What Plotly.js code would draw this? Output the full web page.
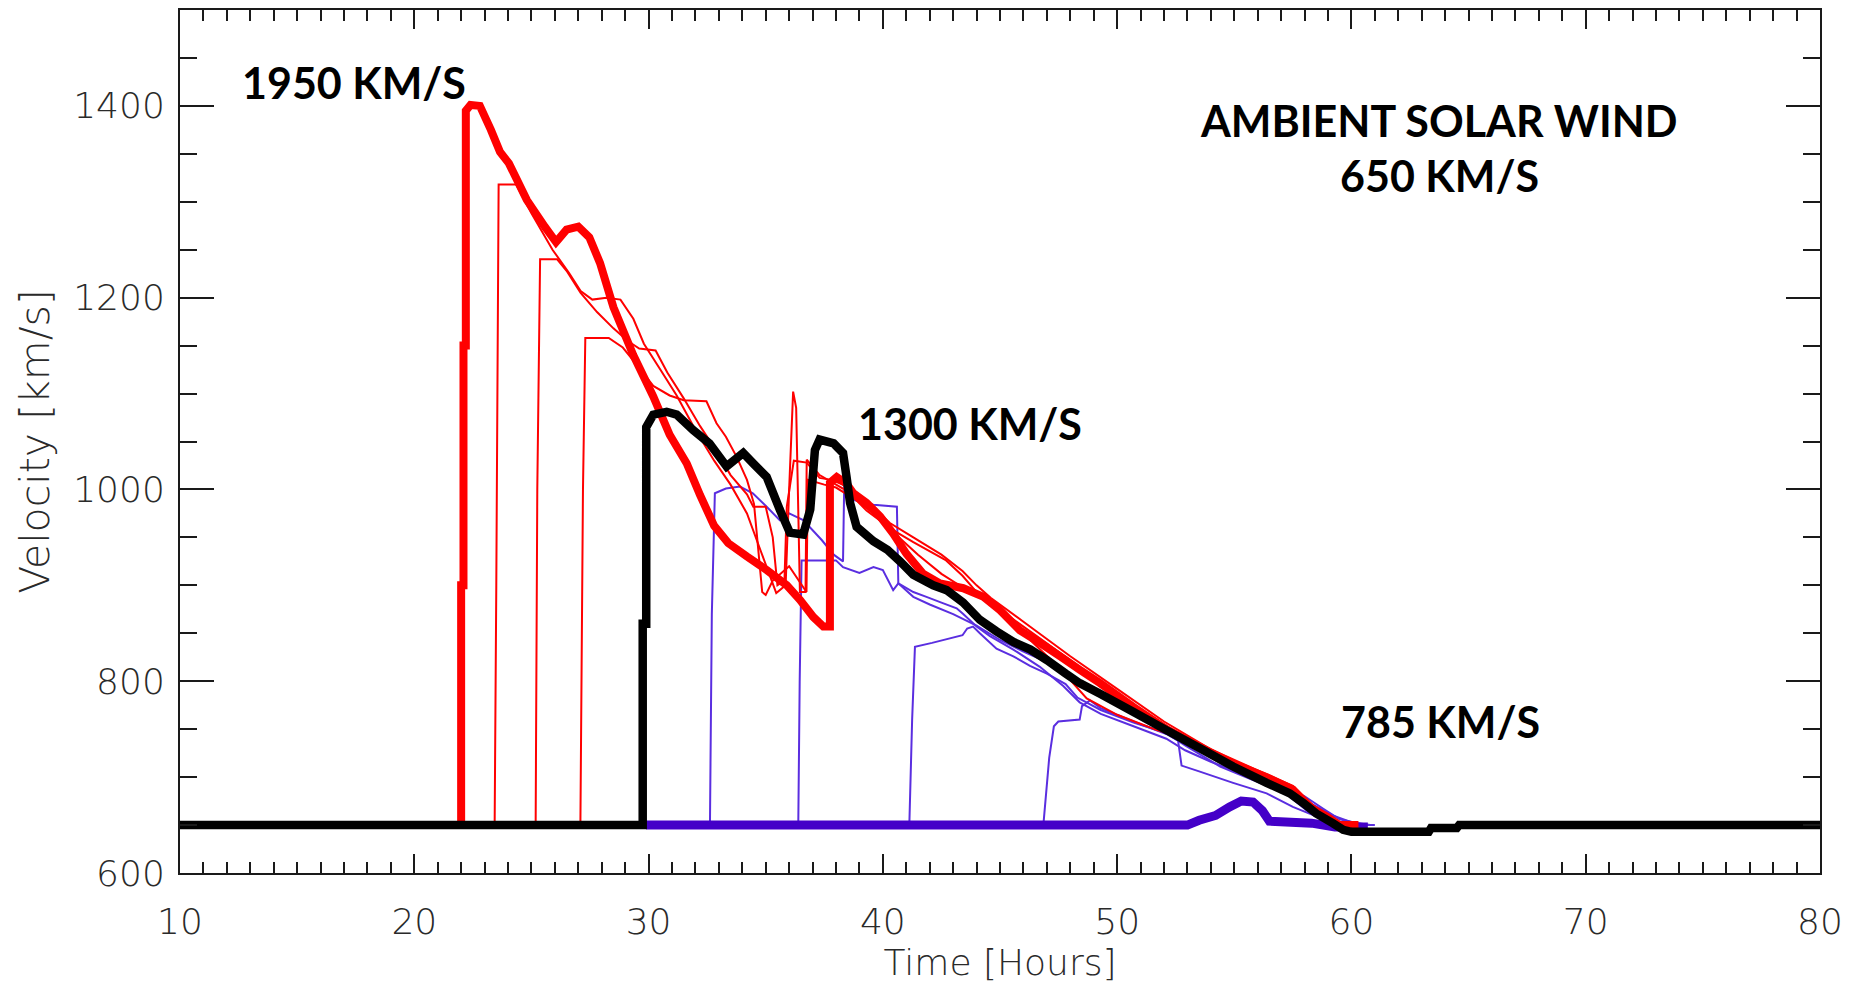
<!DOCTYPE html>
<html>
<head>
<meta charset="utf-8">
<script src="https://cdn.plot.ly/plotly-3.0.1.min.js"></script>
<style>
  html, body { margin: 0; padding: 0; background: #ffffff; }
  #chart { width: 1858px; height: 987px; }
</style>
</head>
<body>
<div id="chart"></div>
<script>
// ---------------- DATA ----------------
// Time in hours, velocity in km/s

// Thick black: 1300 km/s case (includes the ambient wind baseline)
const blackT = [10, 29.75, 29.75, 29.9, 29.9, 30.2, 30.77, 31.2, 31.9, 32.6, 33.33, 34.04, 34.47, 35.04, 35.6, 36.03, 36.6, 36.9, 37.1, 37.3, 37.9, 38.3, 38.45, 38.6, 38.88, 39.6, 40.2, 40.73, 41.3, 42.15, 42.72, 43.43, 44.14, 44.85, 45.57, 46.3, 47.0, 47.8, 48.4, 49.27, 50.7, 52.1, 53.53, 54.95, 56.38, 57.37, 57.94, 58.5, 59.2, 59.65, 60.0, 63.3, 63.4, 64.5, 64.6, 80];
const blackV = [650, 650, 860, 860, 1065, 1078, 1081, 1078, 1062, 1048, 1024, 1038, 1027, 1013, 979, 955, 953, 979, 1041, 1052, 1048, 1038, 1013, 986, 961, 946, 937, 925, 911, 900, 895, 882, 864, 852, 841, 833, 822, 808, 798, 787, 768, 749, 730, 711, 694, 683, 673, 662, 652, 645, 643, 643, 647, 647, 650, 650];

// Thick red: 1950 km/s case
const redT = [22.0, 22.0, 22.1, 22.1, 22.2, 22.2, 22.4, 22.8, 23.27, 23.66, 24.04, 24.8, 25.57, 26.05, 26.5, 27.0, 27.47, 27.93, 28.5, 29.35, 30.2, 30.9, 31.63, 32.2, 32.8, 33.4, 34.2, 35.04, 35.9, 36.46, 37.03, 37.46, 37.74, 37.74, 38.03, 38.45, 38.74, 39.3, 39.88, 40.44, 41.0, 41.72, 42.44, 43.43, 44.3, 45.0, 45.85, 46.7, 47.56, 48.4, 49.27, 50.7, 52.1, 53.5, 54.95, 56.38, 57.5, 58.2, 58.94, 59.5, 60.3];
const redV = [650, 900, 900, 1150, 1150, 1395, 1401, 1400, 1375, 1352, 1340, 1302, 1274, 1258, 1271, 1274, 1263, 1236, 1190, 1140, 1097, 1057, 1027, 994, 962, 944, 930, 916, 900, 885, 867, 857, 857, 1007, 1013, 1006, 996, 986, 972, 954, 933, 912, 902, 897, 888, 874, 853, 840, 826, 812, 798, 773, 750, 732, 714, 700, 687, 669, 659, 650, 650];

// Thick purple: 785 km/s case
const purpleT = [29.9, 53.0, 53.5, 54.2, 54.8, 55.3, 55.8, 56.2, 56.5, 58.3, 59.3, 60.7];
const purpleV = [650, 650, 655, 660, 669, 675, 674, 665, 654, 652, 648, 648];

// Thin red ensemble members
const red1T = [23.43, 23.5, 23.6, 24.35, 25.0, 25.9, 26.6, 27.1, 27.6, 28.2, 28.8, 29.35, 29.8, 30.5, 31.2, 32.0, 32.8, 33.5, 34.2, 34.8, 35.45, 35.85, 36.0, 36.17, 36.3, 36.46, 36.7, 36.75, 37.3, 37.8, 38.5, 39.3, 40.4, 41.3, 42.7, 43.4, 44.0, 44.7, 46.0, 48.0, 50.0, 52.0, 54.0, 56.0, 57.5, 58.3, 59.0, 59.6, 60.5];
const red1V = [650, 900, 1318, 1318, 1288, 1250, 1226, 1207, 1198, 1200, 1198, 1178, 1152, 1125, 1098, 1062, 1030, 1005, 975, 935, 892, 900, 1000, 1102, 1085, 893, 893, 1031, 1015, 1008, 998, 978, 958, 945, 926, 910, 893, 880, 857, 822, 787, 755, 727, 705, 690, 670, 658, 650, 650];
const red2T = [25.18, 25.25, 25.37, 26.1, 26.5, 27.1, 27.8, 28.5, 29.1, 29.6, 30.3, 30.8, 31.5, 32.2, 32.9, 33.5, 34.2, 34.47, 35.0, 35.3, 35.5, 35.8, 35.9, 36.2, 36.75, 37.3, 37.8, 38.5, 39.3, 40.3, 41.3, 42.5, 43.4, 44.0, 44.6, 46.0, 48.0, 50.0, 52.0, 54.0, 56.0, 57.5, 58.4, 59.1, 59.7, 60.5];
const red2V = [650, 1000, 1240, 1240, 1228, 1205, 1185, 1168, 1155, 1147, 1145, 1122, 1095, 1066, 1040, 1015, 995, 982, 982, 950, 900, 905, 982, 1030, 1028, 1012, 1010, 1003, 988, 965, 950, 932, 915, 900, 887, 862, 826, 792, 758, 729, 707, 691, 670, 657, 650, 650];
const red3T = [27.09, 27.2, 27.3, 28.3, 28.9, 29.5, 30.2, 30.9, 31.5, 32.47, 32.9, 33.3, 33.76, 34.2, 34.5, 34.85, 35.0, 35.3, 36.0, 36.74, 36.8, 37.5, 38.0, 38.8, 39.6, 40.6, 41.5, 42.5, 43.4, 44.3, 45.5, 46.5, 47.5, 48.7, 50.0, 51.7, 53.0, 54.0, 56.0, 57.5, 58.4, 59.1, 59.6, 60.5];
const red3V = [650, 1000, 1158, 1158, 1148, 1130, 1108, 1098, 1093, 1092, 1069, 1055, 1034, 1010, 985, 893, 890, 905, 920, 893, 1010, 1005, 1002, 990, 975, 952, 932, 912, 898, 886, 862, 838, 815, 782, 765, 749, 740, 727, 703, 688, 668, 656, 650, 650];

// Thin purple ensemble members
const blue1T = [32.62, 32.7, 32.83, 33.3, 33.9, 34.45, 35.04, 35.6, 36.0, 36.6, 37.4, 37.9, 38.3, 38.35, 38.6, 39.6, 40.6, 40.66, 41.3, 42.0, 43.0, 44.0, 45.0, 46.0, 47.0, 48.0, 49.0, 50.0, 51.0, 52.0, 53.0, 54.0, 55.0, 56.0, 57.0, 58.0, 58.8, 59.5, 60.6];
const blue1V = [650, 870, 996, 1001, 1003, 996, 982, 968, 975, 968, 947, 932, 925, 1005, 990, 984, 982, 902, 888, 880, 870, 858, 843, 831, 820, 806, 792, 778, 765, 752, 738, 725, 713, 702, 692, 680, 667, 656, 650];
const blue2T = [36.39, 36.45, 36.53, 38.0, 38.3, 39.0, 39.6, 40.0, 40.44, 40.66, 41.3, 41.86, 42.5, 43.15, 43.43, 44.0, 44.57, 45.57, 46.7, 47.7, 48.4, 49.3, 50.7, 52.1, 52.9, 54.0, 55.5, 57.0, 58.3, 59.2, 60.0, 60.8];
const blue2V = [650, 800, 926, 926, 919, 913, 919, 916, 895, 902, 893, 888, 882, 876, 870, 857, 847, 833, 815, 795, 778, 766, 753, 740, 728, 716, 702, 688, 672, 660, 653, 650];
const blue3T = [41.13, 41.25, 41.37, 42.1, 43.4, 43.6, 43.85, 44.14, 44.85, 45.57, 46.28, 47.0, 47.8, 48.3, 49.3, 50.7, 52.1, 52.9, 54.4, 55.8, 57.2, 58.1, 58.65, 59.3, 60.2];
const blue3V = [650, 760, 836, 840, 848, 855, 857, 850, 834, 826, 816, 808, 797, 783, 770, 757, 746, 733, 711, 697, 683, 665, 659, 654, 650];
const blue4T = [46.85, 47.1, 47.3, 47.49, 48.4, 48.5, 48.84, 49.3, 50.7, 52.1, 52.6, 52.75, 53.5, 54.95, 56.38, 57.5, 58.5, 59.2, 60.0, 61.0];
const blue4V = [650, 720, 753, 758, 760, 774, 780, 772, 758, 745, 738, 712, 706, 694, 683, 669, 659, 653, 650, 650];

// Text labels
const labelText = ['1950 KM/S', '1300 KM/S', 'AMBIENT SOLAR WIND', '650 KM/S', '785 KM/S'];
const labelT = [17.43, 43.7, 63.74, 63.74, 63.8];
const labelV = [1424, 1069, 1385, 1327, 758];

// ---------------- STYLES ----------------
const RED = '#ff0000';
const PURPLE = '#4400c8';
const PURPLE_THIN = '#5a2ee0';
const INK = '#1a1a1a';
const FONT = 'DejaVu Sans, Liberation Sans, sans-serif';
const tickFont = { family: FONT, size: 36, color: '#2a2a2a', weight: 200 };

function line(x, y, color, width) {
  return { type: 'scatter', mode: 'lines', x: x, y: y,
           line: { color: color, width: width, simplify: false },
           hoverinfo: 'skip', showlegend: false };
}

const traces = [
  line(blue1T, blue1V, PURPLE_THIN, 2),
  line(blue2T, blue2V, PURPLE_THIN, 2),
  line(blue3T, blue3V, PURPLE_THIN, 2),
  line(blue4T, blue4V, PURPLE_THIN, 2),
  line(red1T, red1V, RED, 2),
  line(red2T, red2V, RED, 2),
  line(red3T, red3V, RED, 2),
  line(purpleT, purpleV, PURPLE, 9),
  line(redT, redV, RED, 8),
  line(blackT, blackV, '#000000', 8.5)
];

const annotations = labelText.map((t, i) => ({
  x: labelT[i], y: labelV[i], xref: 'x', yref: 'y',
  text: t, showarrow: false, xanchor: 'center', yanchor: 'middle',
  font: { family: 'Lato, Open Sans, sans-serif', size: 43, color: '#000000', weight: 700 }
}));

const layout = {
  width: 1858, height: 987,
  paper_bgcolor: '#ffffff', plot_bgcolor: '#ffffff',
  margin: { l: 180, r: 38, t: 10, b: 114, pad: 0 },
  showlegend: false,
  xaxis: {
    range: [10, 80], dtick: 10, tick0: 10,
    showgrid: false, zeroline: false,
    showline: true, linecolor: INK, linewidth: 2, mirror: 'ticks',
    ticks: 'inside', ticklen: 19, tickwidth: 2, tickcolor: INK,
    minor: { dtick: 1, ticks: 'inside', ticklen: 11, tickwidth: 2, tickcolor: INK, showgrid: false },
    tickfont: tickFont, ticklabelstandoff: 16,
    title: { text: 'Time [Hours]', font: { family: FONT, size: 36, color: '#2a2a2a', weight: 200 }, standoff: 4 },
    automargin: false, fixedrange: true
  },
  yaxis: {
    range: [600, 1500], dtick: 200, tick0: 600,
    showgrid: false, zeroline: false,
    showline: true, linecolor: INK, linewidth: 2, mirror: 'ticks',
    ticks: 'inside', ticklen: 34, tickwidth: 2, tickcolor: INK,
    minor: { dtick: 50, ticks: 'inside', ticklen: 17, tickwidth: 2, tickcolor: INK, showgrid: false },
    tickfont: tickFont, ticklabelstandoff: 6,
    title: { text: 'Velocity [km/s]', font: { family: FONT, size: 41, color: '#2a2a2a', weight: 200 }, standoff: 11 },
    automargin: false, fixedrange: true
  },
  annotations: annotations
};

Plotly.newPlot('chart', traces, layout, { displayModeBar: false, staticPlot: true });
</script>
</body>
</html>
